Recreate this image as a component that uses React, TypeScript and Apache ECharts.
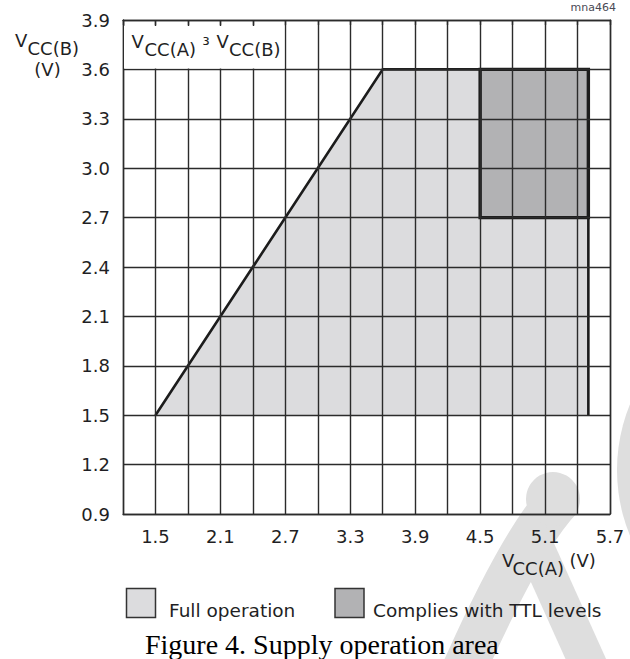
import React, { useEffect, useRef } from "react";
import * as echarts from "echarts";

// ---- axis ranges and tick labels ----
const X_MIN = 1.2;
const X_MAX = 5.7;
const Y_MIN = 0.9;
const Y_MAX = 3.9;
const STEP = 0.3;
const xLabelValues = [1.5, 2.1, 2.7, 3.3, 3.9, 4.5, 5.1, 5.7];
const yLabelValues = [0.9, 1.2, 1.5, 1.8, 2.1, 2.4, 2.7, 3.0, 3.3, 3.6, 3.9];

// ---- regions (VCC(A), VCC(B)) in volts ----
const fullOperationArea = [
  [1.5, 1.5],
  [3.6, 3.6],
  [5.5, 3.6],
  [5.5, 1.5],
];
const ttlLevelArea = [
  [4.5, 2.7],
  [4.5, 3.6],
  [5.5, 3.6],
  [5.5, 2.7],
];
// cell holding the VCC(A) >= VCC(B) note (no grid lines there)
const noteCell = [
  [1.2, 3.9],
  [2.7, 3.6],
];

const legendNames = ["Full operation", "Complies with TTL levels"];
const caption = "Figure 4. Supply operation area";
const figureId = "mna464";

const FONT = "DejaVu Sans";
const TEXT = "#1f1f24";
const GRID = "#2b2b2b";
const EDGE = "#1c1c1c";
const LIGHT = "#dcdcde";
const DARK = "#b2b2b4";
const WATER = "#dedede";
const LW = 1.4;

const near = (a: number, b: number) => Math.abs(a - b) < 1e-6;

export default function App() {
  const ref = useRef<HTMLDivElement>(null);
  useEffect(() => {
    if (!ref.current) return;
    const chart = echarts.init(ref.current, null, { renderer: "svg" });
    const txt = (
      text: string,
      x: number,
      y: number,
      size = 18,
      extra: any = {}
    ) => ({
      type: "text",
      x,
      y,
      z: 20,
      silent: true,
      style: {
        text,
        fill: TEXT,
        fontFamily: FONT,
        fontSize: size,
        align: "left",
        verticalAlign: "middle",
        ...extra,
      },
    });
    const option: any = {
      animation: false,
      backgroundColor: "#ffffff",
      grid: { left: 123, top: 20, right: 20, bottom: 145 },
      xAxis: [
        {
          type: "value",
          min: X_MIN,
          max: X_MAX,
          interval: STEP,
          position: "bottom",
          z: 3,
          axisLine: { show: true, lineStyle: { color: GRID, width: LW } },
          axisTick: { show: false },
          axisLabel: {
            show: true,
            margin: 13,
            color: TEXT,
            fontFamily: FONT,
            fontSize: 18,
            showMinLabel: true,
            showMaxLabel: true,
            formatter: (v: number) =>
              xLabelValues.some((x) => near(x, v)) ? v.toFixed(1) : "",
          },
          splitLine: { show: true, lineStyle: { color: GRID, width: LW } },
        },
        {
          type: "value",
          min: X_MIN,
          max: X_MAX,
          interval: STEP,
          position: "top",
          z: 5,
          axisLine: { show: true, lineStyle: { color: GRID, width: LW } },
          axisTick: { show: true, inside: true, length: 5, lineStyle: { color: GRID, width: LW } },
          axisLabel: { show: false },
          splitLine: { show: false },
        },
      ],
      yAxis: [
        {
          type: "value",
          min: Y_MIN,
          max: Y_MAX,
          interval: STEP,
          position: "left",
          z: 3,
          axisLine: { show: true, lineStyle: { color: GRID, width: LW } },
          axisTick: { show: false },
          axisLabel: {
            show: true,
            margin: 13,
            color: TEXT,
            fontFamily: FONT,
            fontSize: 18,
            showMinLabel: true,
            showMaxLabel: true,
            formatter: (v: number) =>
              yLabelValues.some((y) => near(y, v)) ? v.toFixed(1) : "",
          },
          splitLine: { show: true, lineStyle: { color: GRID, width: LW } },
        },
        {
          type: "value",
          min: Y_MIN,
          max: Y_MAX,
          interval: STEP,
          position: "right",
          z: 3,
          axisLine: { show: true, lineStyle: { color: GRID, width: LW } },
          axisTick: { show: false },
          axisLabel: { show: false },
          splitLine: { show: false },
        },
      ],
      series: [
        {
          name: legendNames[0],
          type: "custom",
          z: 1,
          silent: true,
          xAxisIndex: 0,
          yAxisIndex: 0,
          data: [fullOperationArea[0]],
          renderItem: (_p: any, api: any) => {
            const pts = fullOperationArea.map((p) => api.coord(p));
            return {
              type: "group",
              children: [
                { type: "polygon", shape: { points: pts }, style: { fill: LIGHT, stroke: null } },
                {
                  type: "polyline",
                  shape: { points: pts },
                  style: { fill: null, stroke: EDGE, lineWidth: 2.6, lineJoin: "miter" },
                },
              ],
            };
          },
        },
        {
          name: legendNames[1],
          type: "custom",
          z: 2,
          silent: true,
          xAxisIndex: 0,
          yAxisIndex: 0,
          data: [ttlLevelArea[0]],
          renderItem: (_p: any, api: any) => {
            const pts = ttlLevelArea.map((p) => api.coord(p));
            return {
              type: "polygon",
              shape: { points: pts },
              style: { fill: DARK, stroke: EDGE, lineWidth: 3.4, lineJoin: "miter" },
            };
          },
        },
        {
          name: "note-cell",
          type: "custom",
          z: 4,
          silent: true,
          xAxisIndex: 0,
          yAxisIndex: 0,
          data: [noteCell[0]],
          renderItem: (_p: any, api: any) => {
            const a = api.coord(noteCell[0]);
            const b = api.coord(noteCell[1]);
            return {
              type: "rect",
              shape: { x: a[0] + 1, y: a[1] + 6, width: b[0] - a[0] - 2, height: b[1] - a[1] - 7 },
              style: { fill: "#ffffff" },
            };
          },
        },
      ],
      graphic: [
        // faint page watermark
        {
          type: "bezierCurve",
          z: -5,
          silent: true,
          shape: { x1: 455, y1: 690, cpx1: 520, cpy1: 540, x2: 562, y2: 497 },
          style: { stroke: WATER, lineWidth: 44, fill: null },
        },
        {
          type: "circle",
          z: -5,
          silent: true,
          shape: { cx: 553, cy: 499, r: 27 },
          style: { fill: WATER },
        },
        {
          type: "line",
          z: -5,
          silent: true,
          shape: { x1: 530, y1: 535, x2: 602, y2: 695 },
          style: { stroke: WATER, lineWidth: 37 },
        },
        {
          type: "circle",
          z: -5,
          silent: true,
          shape: { cx: 790, cy: 470, r: 173 },
          style: { fill: WATER },
        },
        // figure id at the page top
        txt(figureId, 616, 7, 11, { align: "right", fill: "#4a4a55" }),
        // y axis name
        txt("V", 15, 40.6),
        txt("CC(B)", 27.5, 48),
        txt("(V)", 47.5, 69.6, 18, { align: "center" }),
        // note inside the plot
        txt("V", 131.5, 41.6),
        txt("CC(A)", 144.5, 49),
        txt("³", 202.5, 44, 18),
        txt("V", 216.5, 41.6),
        txt("CC(B)", 229, 49),
        // x axis name
        txt("V", 502, 560.6),
        txt("CC(A)", 512.5, 568),
        txt("(V)", 569.5, 560.6),
        // legend
        {
          type: "rect",
          z: 20,
          silent: true,
          shape: { x: 126.5, y: 588.5, width: 29, height: 29 },
          style: { fill: LIGHT, stroke: "#333", lineWidth: 1.5 },
        },
        txt(legendNames[0], 169, 610, 18.5),
        {
          type: "rect",
          z: 20,
          silent: true,
          shape: { x: 335, y: 588.5, width: 29, height: 29 },
          style: { fill: DARK, stroke: "#333", lineWidth: 1.5 },
        },
        txt(legendNames[1], 373, 610, 18.5),
        // caption
        txt(caption, 145, 644, 28, { fontFamily: "Liberation Serif", fill: "#000" }),
      ],
    };
    chart.setOption(option);
    return () => chart.dispose();
  }, []);
  return (
    <div
      ref={ref}
      style={{ position: "fixed", left: 0, top: 0, width: 630, height: 659, background: "#fff" }}
    />
  );
}
